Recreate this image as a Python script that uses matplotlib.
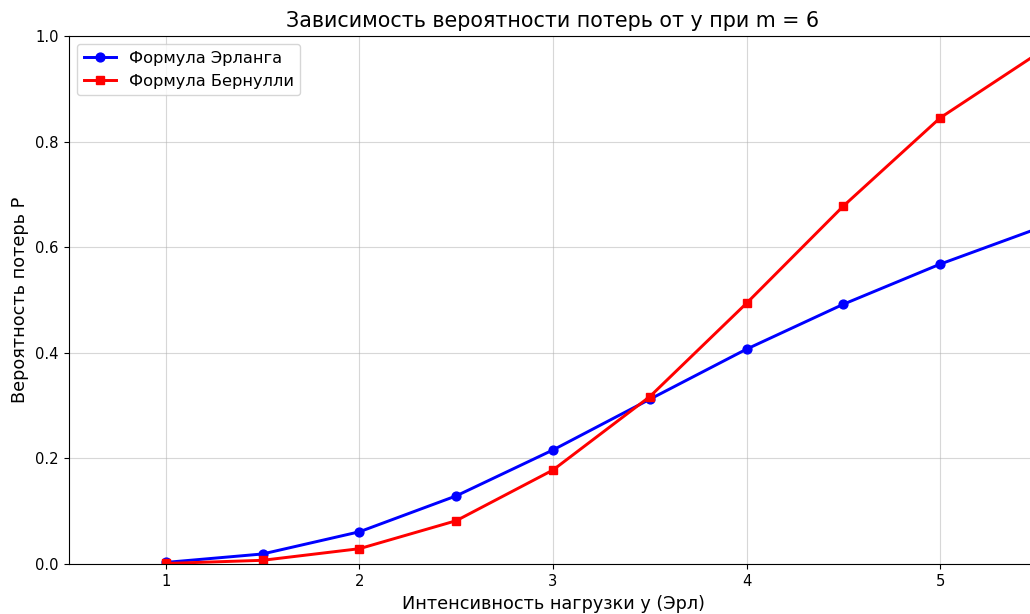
import matplotlib
matplotlib.use("Agg")
import matplotlib.pyplot as plt

y_values = [1.0, 1.5, 2.0, 2.5, 3.0, 3.5, 4.0, 4.5, 5.0, 5.5]
erlang = [0.003, 0.019, 0.061, 0.129, 0.216, 0.312, 0.407, 0.492, 0.568, 0.635]
bernoulli = [0.001, 0.007, 0.029, 0.082, 0.178, 0.317, 0.494, 0.678, 0.845, 0.966]

s = 1.06
fig = plt.figure(figsize=(10.30, 6.14), dpi=100)
ax = fig.add_axes([69/1030, 50/614, 968/1030, 528/614])

ax.plot(y_values, erlang, color="blue", marker="o", linewidth=2*s, markersize=6*s,
        label="Формула Эрланга")
ax.plot(y_values, bernoulli, color="red", marker="s", linewidth=2*s, markersize=6*s,
        label="Формула Бернулли")

ax.set_xlim(0.5, 5.5)
ax.set_ylim(0.0, 1.0)
ax.set_xticks([1, 2, 3, 4, 5])
ax.set_yticks([0.0, 0.2, 0.4, 0.6, 0.8, 1.0])
ax.tick_params(labelsize=10*s, length=3.5*s)
ax.grid(True, alpha=0.5, color="#b0b0b0")
ax.set_title("Зависимость вероятности потерь от y при m = 6", fontsize=14*s, pad=6*s)
ax.set_xlabel("Интенсивность нагрузки y (Эрл)", fontsize=12*s, labelpad=4*s)
ax.set_ylabel("Вероятность потерь P", fontsize=12*s, labelpad=4*s)
ax.legend(loc="upper left", fontsize=11*s)

fig.savefig("out.png", dpi=100)
